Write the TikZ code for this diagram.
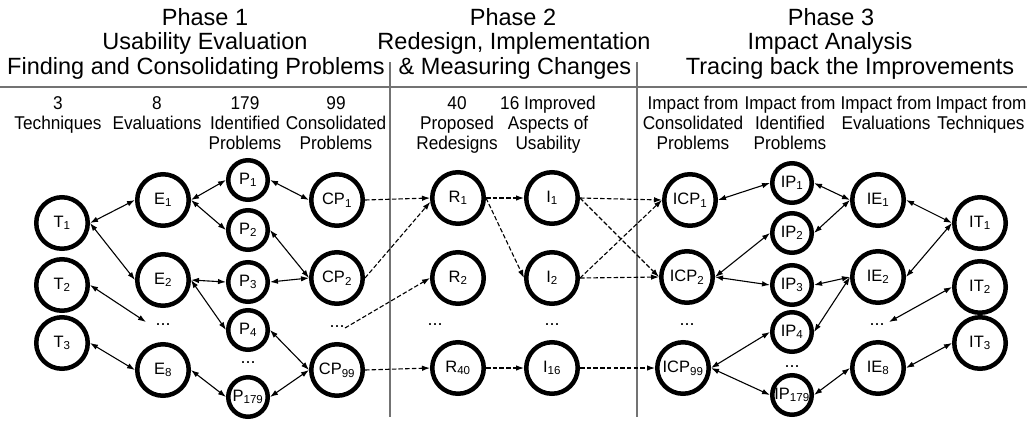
\documentclass[tikz,border=0pt]{standalone}
\usepackage{fontspec}
\setmainfont{Liberation Sans}
\newfontfamily\labfont[FakeStretch=0.93]{Liberation Sans}
\usetikzlibrary{arrows.meta}
\newcommand\headfont{\fontsize{23.5}{26}\selectfont}
\newcommand\labelfont{\labfont\fontsize{18.5}{20}\selectfont}
\newcommand\nodefont{\fontsize{16.5}{18}\selectfont}
\newcommand\dotsfont{\fontsize{18}{18}\selectfont}
\newcommand\sub[1]{\textsubscript{#1}}
\begin{document}
\begin{tikzpicture}[x=1pt,y=-1pt,
  big/.style={circle,draw,line width=4.5pt,minimum size=51.5pt,inner sep=0pt,font=\nodefont},
  small/.style={circle,draw,line width=4.5pt,minimum size=39.5pt,inner sep=0pt,font=\nodefont},
  dotsnode/.style={inner sep=0pt,font=\dotsfont},
  bi/.style={{Latex[length=8pt,width=5.5pt]}-{Latex[length=8pt,width=5.5pt]},line width=1.1pt},
  da/.style={-{Latex[length=8pt,width=5.5pt]},line width=1.1pt,dash pattern=on 4.5pt off 2.2pt},
  sepline/.style={draw=black!55,line width=1.4pt},
  head/.style={font=\headfont,inner sep=0pt},
  lab/.style={align=center,font=\labelfont,anchor=north,inner sep=0pt}]
\useasboundingbox (0,0) rectangle (1027,421);
% headers
\node[head] (h1a) at (205,17) {Phase 1};
\node[head] (h1b) at (205,43) {Usability Evaluation};
\node[head] (h1c) at (196,68) {Finding and Consolidating Problems};
\node[head] (h2a) at (513,17) {Phase 2};
\node[head] (h2b) at (514,43) {Redesign, Implementation};
\node[head] (h2c) at (515,68) {\& Measuring Changes};
\node[head] (h3a) at (831,17) {Phase 3};
\node[head] (h3b) at (830,43) {Impact Analysis};
\node[head] (h3c) at (850,68) {Tracing back the Improvements};
\coordinate (rl) at (0,87);
\coordinate (rr) at (1027,87);
\draw[sepline] (rl) -- (rr);
\coordinate (s1t) at (390,62);
\coordinate (s1b) at (390,417);
\coordinate (s2t) at (637,62);
\coordinate (s2b) at (637,417);
\draw[sepline] (s1t) -- (s1b);
\draw[sepline] (s2t) -- (s2b);
% column labels
\node[lab] (l1) at (58,96) {3\\Techniques};
\node[lab] (l2) at (157,96) {8\\Evaluations};
\node[lab] (l3) at (245,96) {179\\Identified\\Problems};
\node[lab] (l4) at (336,96) {99\\Consolidated\\Problems};
\node[lab] (l5) at (457,96) {40\\Proposed\\Redesigns};
\node[lab] (l6) at (548,96) {16 Improved\\Aspects of\\Usability};
\node[lab] (l7) at (693,96) {Impact from\\Consolidated\\Problems};
\node[lab] (l8) at (790,96) {Impact from\\Identified\\Problems};
\node[lab] (l9) at (886,96) {Impact from\\Evaluations};
\node[lab] (l10) at (981,96) {Impact from\\Techniques};
% phase 1 nodes
\node[big] (T1) at (62,223) {T\sub{1}};
\node[big] (T2) at (62,285) {T\sub{2}};
\node[big] (T3) at (62,343) {T\sub{3}};
\node[big] (E1) at (163,200) {E\sub{1}};
\node[big] (E2) at (163,280) {E\sub{2}};
\node[dotsnode] (Ed) at (163,325) {...};
\node[big] (E8) at (163,370) {E\sub{8}};
\node[small] (P1) at (248,180) {P\sub{1}};
\node[small] (P2) at (248,230) {P\sub{2}};
\node[small] (P3) at (248,282) {P\sub{3}};
\node[small] (P4) at (248,330) {P\sub{4}};
\node[dotsnode] (Pd) at (248,363) {...};
\node[small] (P179) at (248,397) {P\sub{179}};
\node[big] (CP1) at (337,200) {CP\sub{1}};
\node[big] (CP2) at (337,278) {CP\sub{2}};
\node[dotsnode] (CPd) at (337,327) {...};
\node[big] (CP99) at (337,370) {CP\sub{99}};
% phase 2 nodes
\node[big] (R1) at (458,198) {R\sub{1}};
\node[big] (R2) at (458,278) {R\sub{2}};
\node[dotsnode] (Rd) at (435,325) {...};
\node[big] (R40) at (458,368) {R\sub{40}};
\node[big] (I1) at (552,198) {I\sub{1}};
\node[big] (I2) at (552,278) {I\sub{2}};
\node[dotsnode] (Id) at (552,325) {...};
\node[big] (I16) at (552,368) {I\sub{16}};
% phase 3 nodes
\node[big] (ICP1) at (690,200) {ICP\sub{1}};
\node[big] (ICP2) at (687,277) {ICP\sub{2}};
\node[dotsnode] (ICPd) at (687,325) {...};
\node[big] (ICP99) at (683,368) {ICP\sub{99}};
\node[small] (IP1) at (792,183) {IP\sub{1}};
\node[small] (IP2) at (792,233) {IP\sub{2}};
\node[small] (IP3) at (792,285) {IP\sub{3}};
\node[small] (IP4) at (792,332) {IP\sub{4}};
\node[dotsnode] (IPd) at (792,367) {...};
\node[small] (IP179) at (792,395) {IP\sub{179}};
\node[big] (IE1) at (878,200) {IE\sub{1}};
\node[big] (IE2) at (878,277) {IE\sub{2}};
\node[dotsnode] (IEd) at (877,325) {...};
\node[big] (IE8) at (878,368) {IE\sub{8}};
\node[big] (IT1) at (980,223) {IT\sub{1}};
\node[big] (IT2) at (980,287) {IT\sub{2}};
\node[big] (IT3) at (980,343) {IT\sub{3}};
% dots connector ends
\coordinate (Edl) at (146,322);
\coordinate (CPdr) at (345,328);
\coordinate (IEdr) at (889,322);
% phase 1 connectors
\draw[bi] (T1.east) -- (E1.west);
\draw[bi] (T1.east) -- (E2.west);
\draw[bi] (T2.east) -- (Edl);
\draw[bi] (T3.east) -- (E8.west);
\draw[bi] (E1.east) -- (P1.west);
\draw[bi] (E1.east) -- (P2.west);
\draw[bi] (E2.east) -- (P3.west);
\draw[bi] (E2.east) -- (P4.west);
\draw[bi] (E8.east) -- (P179.west);
\draw[bi] (P1.east) -- (CP1.west);
\draw[bi] (P2.east) -- (CP2.west);
\draw[bi] (P3.east) -- (CP2.west);
\draw[bi] (P4.east) -- (CP99.west);
\draw[bi] (P179.east) -- (CP99.west);
% phase 2 connectors
\draw[da] (CP1.east) -- (R1.west);
\draw[da] (CP2.east) -- (R1.188);
\draw[da] (CPdr) -- (R2.west);
\draw[da] (CP99.east) -- (R40.west);
\draw[da] (R1.east) -- (I1.west);
\draw[da] (R1.east) -- (I2.west);
\draw[da] (R40.east) -- (I16.west);
\draw[da] (I1.east) -- (ICP1.west);
\draw[da] (I1.east) -- (ICP2.west);
\draw[da] (I2.east) -- (ICP1.west);
\draw[da] (I2.east) -- (ICP2.west);
\draw[da] (I16.east) -- (ICP99.west);
% phase 3 connectors
\draw[bi] (ICP1.east) -- (IP1.west);
\draw[bi] (ICP2.east) -- (IP2.west);
\draw[bi] (ICP2.east) -- (IP3.west);
\draw[bi] (ICP99.east) -- (IP4.west);
\draw[bi] (ICP99.east) -- (IP179.west);
\draw[bi] (IP1.east) -- (IE1.west);
\draw[bi] (IP2.east) -- (IE1.west);
\draw[bi] (IP3.east) -- (IE2.west);
\draw[bi] (IP4.east) -- (IE2.west);
\draw[bi] (IP179.east) -- (IE8.west);
\draw[bi] (IE1.east) -- (IT1.west);
\draw[bi] (IE2.east) -- (IT1.west);
\draw[bi] (IEdr) -- (IT2.west);
\draw[bi] (IE8.east) -- (IT3.west);
\end{tikzpicture}
\end{document}
